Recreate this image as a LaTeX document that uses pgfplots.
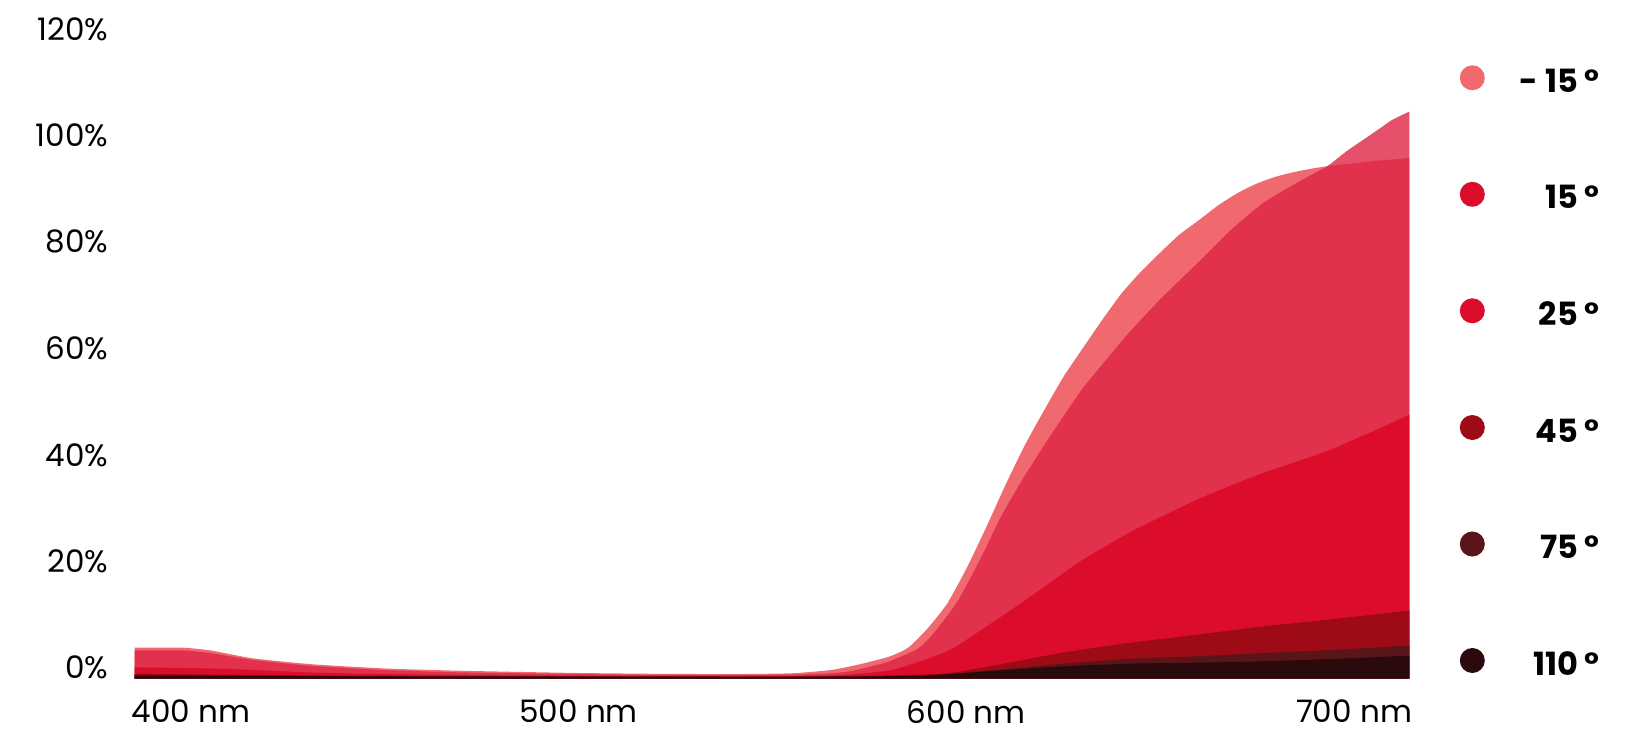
\documentclass[border=0pt]{standalone}
\usepackage{fontspec}
\setmainfont{Poppins}
\usepackage{pgfplots}
\pgfplotsset{compat=1.18}

\definecolor{cmA}{HTML}{F0696F}
\definecolor{cmB}{HTML}{DE2445}
\definecolor{cmBdot}{HTML}{DC0D2B}
\definecolor{cmC}{HTML}{DC0D2B}
\definecolor{cmD}{HTML}{9E0A16}
\definecolor{cmE}{HTML}{5A1519}
\definecolor{cmF}{HTML}{2A0A0C}

\begin{document}
\begin{tikzpicture}
\path[use as bounding box] (-67.35pt,-24.7pt) rectangle (751.15pt,339.3pt);
\begin{axis}[
    at={(0,0)}, anchor=south west,
    scale only axis,
    width=637.35pt, height=319.45pt,
    xmin=385.5, xmax=714.3,
    ymin=0, ymax=120,
    axis line style={draw=none},
    tick style={draw=none},
    xtick={400,500,600,700},
    xticklabels={400 nm,500 nm,600 nm,700 nm},
    ytick={0,20,40,60,80,100,120},
    yticklabels={0\%,20\%,40\%,60\%,80\%,100\%,120\%},
    xticklabel style={font=\fontsize{15.5}{18}\selectfont, inner sep=0pt, anchor=center, yshift=-16.5pt},
    yticklabel style={font=\fontsize{15.5}{18}\selectfont, inner sep=0pt, anchor=east, xshift=-13pt, yshift=5.4pt},
    every axis plot/.append style={smooth, tension=0.35},
    legend image code/.code={\fill[#1, draw=none] (6.25pt,2.2pt) circle (6.25pt);},
    legend cell align=right,
    legend style={draw=none, fill=none, at={(1.1495,0.4802)}, anchor=east,
        inner sep=0pt, row sep=43.2pt, column sep=17.5pt,
        nodes={inner sep=0pt}, font=\fontsize{16}{20}\selectfont\bfseries},
]
% -15
\addplot[fill=cmA, draw=none, forget plot] coordinates {
(385.5,5.8) (398,5.8) (405,5.3) (410,4.6) (416,3.8) (425,3.1) (433,2.6) (450,1.9)
(468,1.5) (485,1.25) (500,1.05) (520,0.9) (540,0.85) (555,1.0) (565,1.6) (572,2.6)
(580,4.1) (585,5.8) (590,9.4) (595,14.0) (600,20.6) (605,28.2) (610,36.2) (615,43.7)
(620,50.3) (625,56.6) (630,62.0) (635,67.3) (640,72.3) (645,76.4) (650,80.0) (655,83.4)
(660,86.1) (665,88.9) (670,91.2) (675,93.0) (680,94.3) (685,95.2) (690,95.9) (695,96.4)
(700,96.8) (705,97.2) (710,97.5) (714.3,97.8)
} \closedcycle;
% 15
\addplot[fill=cmB, fill opacity=0.8, draw=none, forget plot] coordinates {
(385.5,5.3) (398,5.3) (405,4.8) (410,4.2) (416,3.5) (425,2.8) (433,2.3) (450,1.6)
(468,1.2) (485,1.0) (500,0.85) (520,0.7) (540,0.7) (555,0.75) (565,1.0) (570,1.37)
(575,2.2) (580,3.2) (587,5.4) (590,7.2) (593,9.8) (598,14.8) (604,23.0) (609,30.5)
(615,38.0) (621.6,45.5) (625,49.2) (630,54.5) (636,59.8) (642,65.0) (650,71.2)
(660,78.3) (668,84.1) (676.5,89.3) (685,93.0) (693,96.2) (698,99.0) (702,101.0)
(706,103.0) (710,105.0) (714.3,106.5)
} \closedcycle;
% 25
\addplot[fill=cmC, draw=none, forget plot] coordinates {
(385.5,2.1) (398,2.0) (410,1.8) (420,1.5) (433,1.1) (450,0.85) (468,0.7) (485,0.6)
(500,0.5) (520,0.45) (540,0.4) (555,0.45) (565,0.6) (570,0.75) (580,1.5) (587,2.95)
(596,5.45) (604,9.2) (613,13.6) (621.6,18.0) (630,22.3) (642,27.4) (650,30.3)
(659.5,33.6) (668,36.2) (676.5,38.6) (685,40.7) (694,43.0) (700,44.9) (707,47.1)
(714.3,49.6)
} \closedcycle;
% 45
\addplot[fill=cmD, draw=none, forget plot] coordinates {
(385.5,0.9) (400,0.8) (450,0.5) (500,0.4) (560,0.4) (580,0.6) (596,1.07) (613,3.25)
(625,4.9) (642,6.7) (660,8.3) (676.5,9.8) (695,11.2) (714.3,12.8)
} \closedcycle;
% 75
\addplot[fill=cmE, draw=none, forget plot] coordinates {
(385.5,0.7) (450,0.45) (560,0.35) (590,0.6) (610,1.8) (625,2.8) (642,3.7) (660,4.2)
(676.5,4.8) (695,5.4) (714.3,6.2)
} \closedcycle;
% 110
\addplot[fill=cmF, draw=none, forget plot] coordinates {
(385.5,0.55) (450,0.4) (560,0.35) (590,0.6) (610,1.6) (625,2.3) (642,2.8) (660,3.0)
(676.5,3.25) (695,3.7) (714.3,4.3)
} \closedcycle;

\addlegendimage{fill=cmA}
\addlegendentry{- 15 °}
\addlegendimage{fill=cmBdot}
\addlegendentry{15 °}
\addlegendimage{fill=cmC}
\addlegendentry{25 °}
\addlegendimage{fill=cmD}
\addlegendentry{45 °}
\addlegendimage{fill=cmE}
\addlegendentry{75 °}
\addlegendimage{fill=cmF}
\addlegendentry{110 °}
\end{axis}
\end{tikzpicture}
\end{document}
